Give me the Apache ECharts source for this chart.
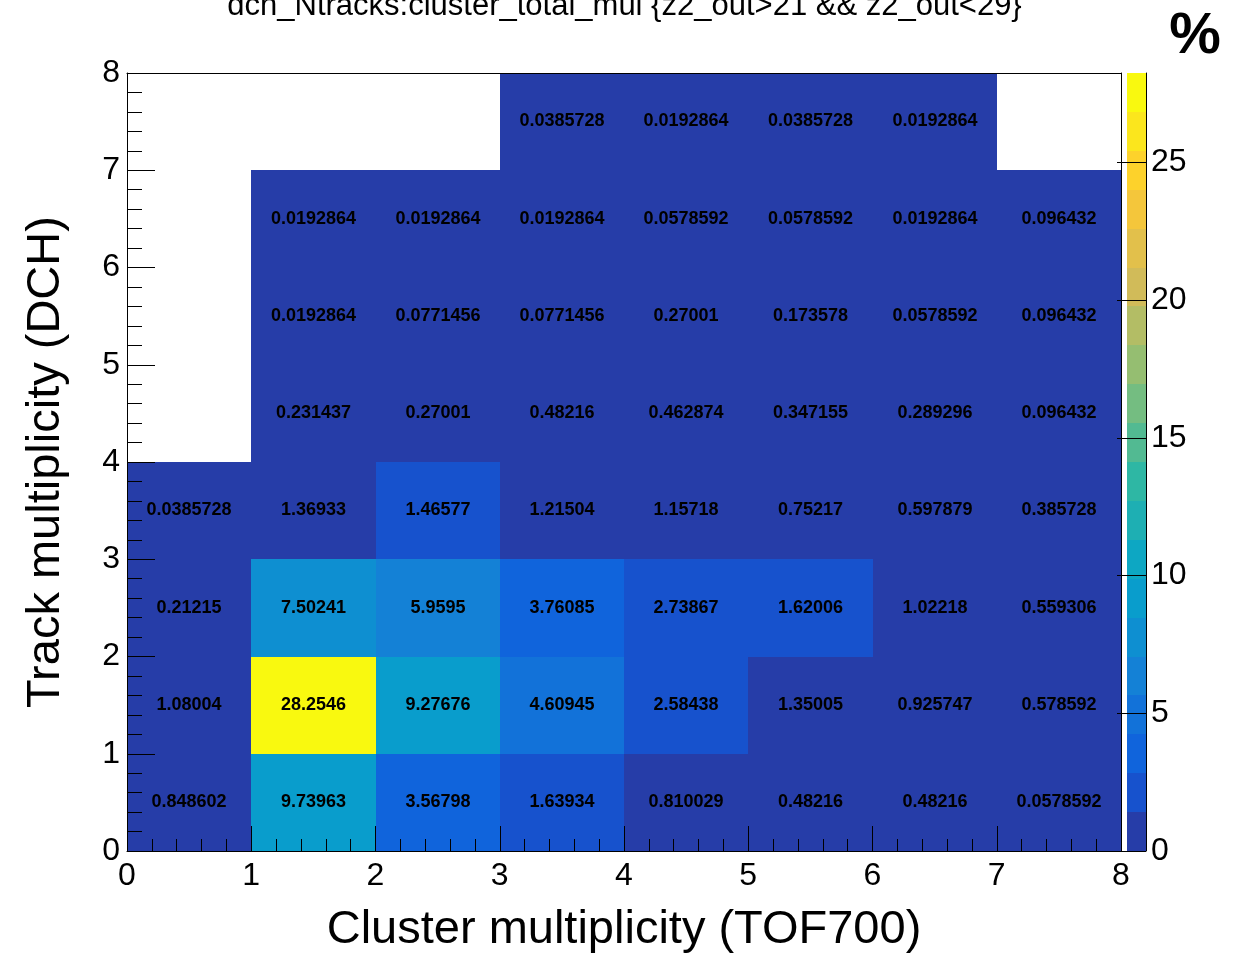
<!DOCTYPE html>
<html>
<head>
<meta charset="utf-8">
<title>dch_Ntracks vs cluster_total_mul</title>
<script src="https://cdn.jsdelivr.net/npm/echarts@6/dist/echarts.min.js"></script>
<style>
  html, body { margin: 0; padding: 0; background: #fff; }
  #chart { width: 1249px; height: 958px; }
</style>
</head>
<body>
<div id="chart"></div>
<script>
// Bin lower edges of the 2D histogram (unit-wide bins)
const clusterBins = [0, 1, 2, 3, 4, 5, 6, 7];   // Cluster multiplicity (TOF700)
const trackBins   = [0, 1, 2, 3, 4, 5, 6, 7];   // Track multiplicity (DCH)

// Bin contents in percent, one array per track-multiplicity row (null = empty bin)
const tracks0 = [0.848602, 9.73963, 3.56798, 1.63934, 0.810029, 0.48216, 0.48216, 0.0578592];
const tracks1 = [1.08004, 28.2546, 9.27676, 4.60945, 2.58438, 1.35005, 0.925747, 0.578592];
const tracks2 = [0.21215, 7.50241, 5.9595, 3.76085, 2.73867, 1.62006, 1.02218, 0.559306];
const tracks3 = [0.0385728, 1.36933, 1.46577, 1.21504, 1.15718, 0.75217, 0.597879, 0.385728];
const tracks4 = [null, 0.231437, 0.27001, 0.48216, 0.462874, 0.347155, 0.289296, 0.096432];
const tracks5 = [null, 0.0192864, 0.0771456, 0.0771456, 0.27001, 0.173578, 0.0578592, 0.096432];
const tracks6 = [null, 0.0192864, 0.0192864, 0.0192864, 0.0578592, 0.0578592, 0.0192864, 0.096432];
const tracks7 = [null, null, null, 0.0385728, 0.0192864, 0.0385728, 0.0192864, null];

// Axis tick values
const axisTicks = [0, 1, 2, 3, 4, 5, 6, 7, 8];
const zTicks = [0, 5, 10, 15, 20, 25];

// 20-step "bird" palette used for the colour contours
const palette = [
  'rgb(38,61,168)', 'rgb(23,82,205)', 'rgb(16,100,220)', 'rgb(18,114,217)',
  'rgb(20,129,214)', 'rgb(14,143,209)', 'rgb(9,157,204)', 'rgb(13,167,195)',
  'rgb(30,175,179)', 'rgb(46,183,164)', 'rgb(82,186,146)', 'rgb(116,189,129)',
  'rgb(149,190,113)', 'rgb(179,189,101)', 'rgb(209,187,89)', 'rgb(226,192,75)',
  'rgb(244,198,59)', 'rgb(253,210,43)', 'rgb(251,230,29)', 'rgb(249,249,15)'
];

const rows = [tracks0, tracks1, tracks2, tracks3, tracks4, tracks5, tracks6, tracks7];
const cells = [];
rows.forEach((row, yi) => {
  row.forEach((v, xi) => {
    if (v !== null) cells.push([clusterBins[xi], trackBins[yi], v]);
  });
});

const zMax = Math.max(...cells.map(c => c[2]));
const nLevels = palette.length;
const step = zMax / nLevels;
const pieces = palette.map((color, i) => (
  i === nLevels - 1 ? { gte: i * step, color } : { gte: i * step, lt: (i + 1) * step, color }
));
const bands = palette.map((color, i) => [i * step, (i + 1) * step, i]);

const FONT = '"Liberation Sans", Arial, Helvetica, sans-serif';

// Snap a rectangle between two data-space corners onto whole pixels
function pixelRect(p0, p1) {
  const x0 = Math.round(p0[0]), x1 = Math.round(p1[0]);
  const y0 = Math.round(p0[1]), y1 = Math.round(p1[1]);
  return { x: Math.min(x0, x1), y: Math.min(y0, y1), width: Math.abs(x1 - x0), height: Math.abs(y1 - y0) };
}

const chart = echarts.init(document.getElementById('chart'), null, { renderer: 'canvas' });

chart.setOption({
  animation: false,
  backgroundColor: '#ffffff',
  title: {
    text: 'dch_Ntracks:cluster_total_mul {z2_out>21 && z2_out<29}',
    left: 'center',
    top: -9,
    padding: 0,
    textStyle: { fontFamily: FONT, fontSize: 31, fontWeight: 'normal', color: '#000' }
  },
  graphic: [{
    type: 'text',
    x: 1195,
    y: 37,
    style: {
      text: '%',
      font: 'bold 58px ' + FONT,
      fill: '#000',
      align: 'center',
      verticalAlign: 'middle'
    }
  }],
  grid: [
    { left: 127, right: 128, top: 73, bottom: 107, containLabel: false, outerBoundsMode: 'none' },
    { left: 1127, width: 19, top: 73, bottom: 107, containLabel: false, outerBoundsMode: 'none' }
  ],
  xAxis: [
    {
      gridIndex: 0, type: 'value', min: 0, max: 8, interval: 1, z: 10,
      name: 'Cluster multiplicity (TOF700)', nameLocation: 'middle', nameGap: 56,
      nameTextStyle: { fontFamily: FONT, fontSize: 47, color: '#000' },
      axisLine: { show: true, onZero: false, lineStyle: { color: '#000', width: 1 } },
      axisTick: { show: true, inside: true, length: 25, lineStyle: { color: '#000' }, customValues: axisTicks },
      minorTick: { show: true, splitNumber: 5, length: 12, lineStyle: { color: '#000' } },
      axisLabel: { fontFamily: FONT, fontSize: 32, color: '#000', margin: 9, customValues: axisTicks },
      splitLine: { show: false }
    },
    {
      gridIndex: 0, type: 'value', min: 0, max: 8, position: 'top', z: 10,
      axisLine: { show: true, onZero: false, lineStyle: { color: '#000', width: 1 } },
      axisTick: { show: false }, axisLabel: { show: false }, splitLine: { show: false }
    },
    {
      gridIndex: 1, type: 'value', min: 0, max: 1, show: false,
      axisLine: { onZero: false }
    }
  ],
  yAxis: [
    {
      gridIndex: 0, type: 'value', min: 0, max: 8, interval: 1, z: 10,
      name: 'Track multiplicity (DCH)', nameLocation: 'middle', nameGap: 57,
      nameTextStyle: { fontFamily: FONT, fontSize: 47, color: '#000' },
      axisLine: { show: true, onZero: false, lineStyle: { color: '#000', width: 1 } },
      axisTick: { show: true, inside: true, length: 28, lineStyle: { color: '#000' }, customValues: axisTicks },
      minorTick: { show: true, splitNumber: 5, length: 15, lineStyle: { color: '#000' } },
      axisLabel: { fontFamily: FONT, fontSize: 32, color: '#000', margin: 7, customValues: axisTicks },
      splitLine: { show: false }
    },
    {
      gridIndex: 0, type: 'value', min: 0, max: 8, position: 'right', z: 10,
      axisLine: { show: true, onZero: false, lineStyle: { color: '#000', width: 1 } },
      axisTick: { show: false }, axisLabel: { show: false }, splitLine: { show: false }
    },
    {
      gridIndex: 1, type: 'value', min: 0, max: zMax, position: 'right', z: 10,
      axisLine: { show: true, onZero: false, lineStyle: { color: '#000', width: 1 } },
      axisTick: { show: true, inside: true, length: 29, lineStyle: { color: '#000' }, customValues: zTicks },
      axisLabel: { fontFamily: FONT, fontSize: 32, color: '#000', margin: 5, customValues: zTicks },
      splitLine: { show: false }
    }
  ],
  visualMap: {
    type: 'piecewise',
    show: false,
    seriesIndex: 0,
    dimension: 2,
    pieces: pieces
  },
  series: [
    {
      // Histogram cells with their contents printed in the middle
      type: 'custom',
      xAxisIndex: 0,
      yAxisIndex: 0,
      data: cells,
      renderItem: function (params, api) {
        const x = api.value(0), y = api.value(1), v = api.value(2);
        return {
          type: 'rect',
          shape: pixelRect(api.coord([x, y]), api.coord([x + 1, y + 1])),
          style: { fill: api.visual('color') },
          textContent: {
            style: { text: String(v), font: 'bold 18px ' + FONT, fill: '#000' }
          },
          textConfig: { position: 'inside' }
        };
      }
    },
    {
      // Colour scale bar
      type: 'custom',
      xAxisIndex: 2,
      yAxisIndex: 2,
      data: bands,
      renderItem: function (params, api) {
        const lo = api.value(0), hi = api.value(1), idx = api.value(2);
        return {
          type: 'rect',
          shape: pixelRect(api.coord([0, lo]), api.coord([1, hi])),
          style: { fill: palette[idx] }
        };
      }
    }
  ]
});
</script>
</body>
</html>
